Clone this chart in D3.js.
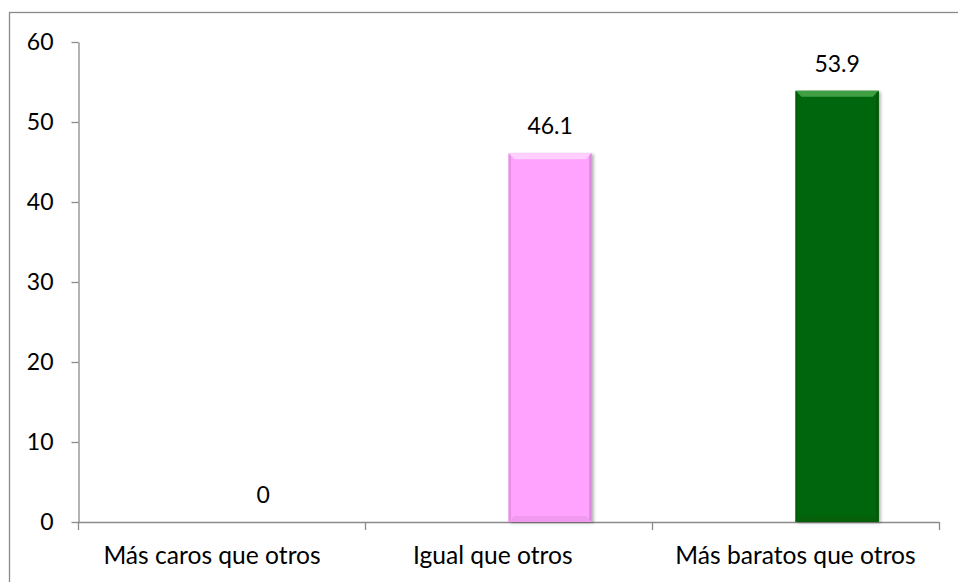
<!DOCTYPE html>
<html>
<head>
<meta charset="utf-8">
<script src="https://cdn.jsdelivr.net/npm/d3@7"></script>
<style>
  html, body { margin: 0; padding: 0; background: #fff; }
  svg { display: block; }
  text { font-family: Lato, "Open Sans", sans-serif; fill: #000; }
</style>
</head>
<body>
<svg id="chart" width="958" height="582"></svg>
<script>
// Price perception: share of answers per category (%)
const categories = ["Más caros que otros\u00A0\u00A0\u00A0", "Igual que otros\u00A0\u00A0\u00A0\u00A0\u00A0", "Más baratos que otros"];
const values = [0, 46.1, 53.9];
const barColors = ["#ffa3ff", "#ffa3ff", "#06660a"];
const bevelColors = ["#ffcfff", "#ffcfff", "#3f9f42"];
const yTicks = [0, 10, 20, 30, 40, 50, 60];

const W = 958, H = 582;
const margin = { left: 78, right: 19, top: 42, bottom: 60 };
const svg = d3.select("#chart");

// outer frame of the chart area
svg.append("rect")
  .attr("x", 9.5).attr("y", 12.5)
  .attr("width", W + 10).attr("height", H + 10)
  .attr("fill", "none").attr("stroke", "#8a8a8a").attr("stroke-width", 1.3);

const x = d3.scaleBand().domain(categories).range([margin.left, W - margin.right]).paddingInner(0).paddingOuter(0);
const y = d3.scaleLinear().domain([0, 60]).range([H - margin.bottom, margin.top]);

// Y axis
const yAxis = svg.append("g")
  .attr("transform", `translate(${margin.left + 0.5},0)`)
  .call(d3.axisLeft(y).tickValues(yTicks).tickSize(7).tickSizeOuter(0).tickPadding(18));
yAxis.select(".domain").attr("stroke", "#8a8a8a").attr("stroke-width", 1.3);
yAxis.selectAll(".tick line").attr("stroke", "#8a8a8a").attr("stroke-width", 1.3);
yAxis.selectAll(".tick text").attr("font-size", 23).attr("font-family", "Lato").attr("fill", "#000");

// X axis: baseline with tick marks at category boundaries
const xAxis = svg.append("g");
const x0 = y(0);
xAxis.append("line")
  .attr("x1", x.range()[0]).attr("x2", x.range()[1])
  .attr("y1", x0 + 0.5).attr("y2", x0 + 0.5)
  .attr("stroke", "#8a8a8a").attr("stroke-width", 1.3);
const boundaries = categories.map(c => x(c)).concat([x.range()[1]]);
xAxis.selectAll("line.bt").data(boundaries).join("line")
  .attr("class", "bt")
  .attr("x1", d => d + 0.5).attr("x2", d => d + 0.5)
  .attr("y1", x0).attr("y2", x0 + 8)
  .attr("stroke", "#8a8a8a").attr("stroke-width", 1.3);
xAxis.selectAll("text").data(categories).join("text")
  .attr("x", d => x(d) + x.bandwidth() / 2)
  .attr("y", x0 + 42)
  .attr("text-anchor", "middle")
  .attr("font-size", 24.6)
  .style("white-space", "pre")
  .text(d => d);

// Bars sit in the right half of each category slot
const barW = x.bandwidth() * 0.29;
const barX = c => x(c) + x.bandwidth() / 2;
const bevel = 6;

const defs = svg.append("defs");
const shadow = defs.append("filter").attr("id", "shadow").attr("x", "-20%").attr("y", "-5%").attr("width", "140%").attr("height", "110%");
shadow.append("feGaussianBlur").attr("in", "SourceAlpha").attr("stdDeviation", 1.5);
shadow.append("feOffset").attr("dx", 1.5).attr("dy", 1).attr("result", "b");
shadow.append("feComponentTransfer").append("feFuncA").attr("type", "linear").attr("slope", 0.3);
const merge = shadow.append("feMerge");
merge.append("feMergeNode");
merge.append("feMergeNode").attr("in", "SourceGraphic");

const data = categories.map((c, i) => ({ c, v: values[i], fill: barColors[i], top: bevelColors[i] }));
const bars = svg.append("g").selectAll("g").data(data.filter(d => d.v > 0)).join("g");

bars.append("rect")
  .attr("x", d => barX(d.c)).attr("y", d => y(d.v))
  .attr("width", barW).attr("height", d => y(0) - y(d.v))
  .attr("fill", d => d.fill)
  .attr("filter", "url(#shadow)");
// top bevel
bars.append("path")
  .attr("d", d => {
    const l = barX(d.c), r = l + barW, t = y(d.v);
    return `M${l},${t}L${r},${t}L${r - bevel},${t + bevel}L${l + bevel},${t + bevel}Z`;
  })
  .attr("fill", d => d.top);
// side edges, slightly darker
bars.append("path")
  .attr("d", d => {
    const l = barX(d.c), t = y(d.v), b = y(0);
    return `M${l},${t}L${l + 2.5},${t + 2.5}L${l + 2.5},${b - 2.5}L${l},${b}Z`;
  })
  .attr("fill", d => d3.color(d.fill).darker(0.3));
bars.append("path")
  .attr("d", d => {
    const r = barX(d.c) + barW, t = y(d.v), b = y(0);
    return `M${r},${t}L${r - 2.5},${t + 2.5}L${r - 2.5},${b - 2.5}L${r},${b}Z`;
  })
  .attr("fill", d => d3.color(d.fill).darker(0.45));
// bottom bevel
bars.append("path")
  .attr("d", d => {
    const l = barX(d.c), r = l + barW, b = y(0);
    return `M${l},${b}L${r},${b}L${r - bevel},${b - bevel}L${l + bevel},${b - bevel}Z`;
  })
  .attr("fill", d => d3.color(d.fill).darker(0.18));

// value labels above each bar
svg.append("g").selectAll("text").data(data).join("text")
  .attr("x", d => barX(d.c) + barW / 2)
  .attr("y", d => y(d.v) - 19)
  .attr("text-anchor", "middle")
  .attr("font-size", 23)
  .text(d => d.v);
</script>
</body>
</html>
